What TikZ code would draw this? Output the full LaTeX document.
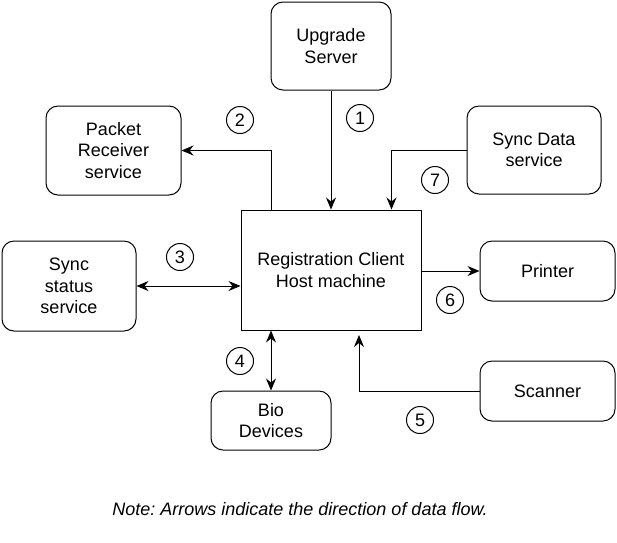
\documentclass[tikz,border=0pt]{standalone}
\usepackage{fontspec}
\setmainfont{Liberation Sans}
\usepackage{tikz}
\usetikzlibrary{arrows.meta}
\frenchspacing

\begin{document}
\begin{tikzpicture}[x=1pt, y=-1pt, line width=1pt,
	box/.style={draw, rounded corners=12pt, align=center, inner sep=0pt},
	host/.style={draw, align=center, inner sep=0pt, minimum width=180pt, minimum height=120pt},
	num/.style={draw, circle, inner sep=0pt, minimum size=27pt},
	arr/.style={-{Stealth[length=12pt, width=10pt, inset=4pt]}},
	dbl/.style={{Stealth[length=12pt, width=10pt, inset=4pt]}-{Stealth[length=12pt, width=10pt, inset=4pt]}}]
	\useasboundingbox (0,0) rectangle (617,542);
	\fontsize{18}{21.5}\selectfont
	
	% Boxes
	\node[host] (reg) at (331,270) {Registration Client\\Host machine};
	\node[box, minimum width=120pt, minimum height=88pt] (up) at (331,46) {Upgrade\\Server};
	\node[box, minimum width=135pt, minimum height=89pt] (pkt) at (113.5,150.5) {Packet\\Receiver\\service};
	\node[box, minimum width=134pt, minimum height=88pt] (syd) at (534,150) {Sync Data\\service};
	\node[box, minimum width=134pt, minimum height=90pt] (sst) at (69,286) {Sync\\status\\service};
	\node[box, minimum width=135pt, minimum height=60pt] (prn) at (547.5,271) {Printer};
	\node[box, minimum width=135pt, minimum height=60pt] (scn) at (547.5,391) {Scanner};
	\node[box, minimum width=120pt, minimum height=59pt] (bio) at (271,420.5) {Bio\\Devices};
	
	% arrows
	\coordinate (s5) at (359,335);
	\draw[arr] (up) -- (reg);
	\draw[arr] (reg.north -| bio) |- (pkt.east);
	\draw[arr] (syd.west) -| (reg.north -| up.east);
	\draw[dbl] (sst.east) -- (reg.west |- sst.east);
	\draw[arr] (reg.east |- prn) -- (prn);
	\draw[dbl] (reg.south -| bio) -- (bio);
	\draw[arr] (scn.west) -| (s5);
	
	% numbers
	\node[num] (n1) at (360,118) {1};
	\node[num] (n2) at (240,120) {2};
	\node[num] (n3) at (180,257) {3};
	\node[num] (n4) at (240,361) {4};
	\node[num] (n5) at (420,420) {5};
	\node[num] (n6) at (450,300) {6};
	\node[num] (n7) at (435,180) {7};
	
	% note
	\node (note) at (300,509) {\itshape Note: Arrows indicate the direction of data flow.};
	
\end{tikzpicture}
\end{document}
